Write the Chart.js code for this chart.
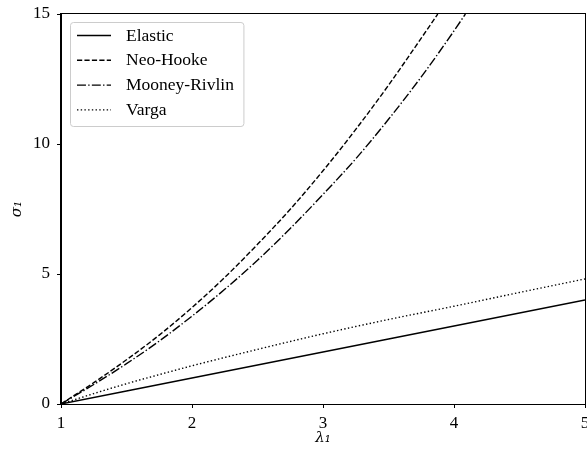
<!DOCTYPE html>
<html>
<head>
<meta charset="utf-8">
<script src="https://cdn.jsdelivr.net/npm/chart.js@4.4.1/dist/chart.umd.min.js"></script>
<style>
    html, body { margin: 0; padding: 0; background: #fff; }
    #wrap { width: 587px; height: 450px; }
</style>
</head>
<body>
<div id="wrap"><canvas id="chart-stress"></canvas></div>
<script>
// values
const elasticLambda = [1, 2, 3, 4, 5];
const elasticSigma = [0, 1, 2, 3, 4];

const neoHookeLambda = [1, 1.25, 1.5, 1.75, 2, 2.25, 2.5, 2.75, 3, 3.25, 3.5, 3.75, 3.876];
const neoHookeSigma = [0, 0.82, 1.7, 2.65, 3.71, 4.87, 6.14, 7.49, 8.97, 10.56, 12.26, 14.07, 15];

const mooneyLambda = [1, 1.25, 1.5, 1.75, 2, 2.25, 2.5, 2.75, 3, 3.25, 3.5, 3.75, 4, 4.087];
const mooneySigma = [0, 0.75, 1.55, 2.42, 3.38, 4.41, 5.53, 6.75, 8.06, 9.43, 10.95, 12.58, 14.35, 15];

const vargaLambda = [1, 1.25, 1.5, 1.75, 2, 2.5, 3, 3.5, 4, 4.5, 5];
const vargaSigma = [0, 0.4, 0.78, 1.13, 1.47, 2.1, 2.7, 3.25, 3.76, 4.29, 4.81];

const xTicks = [1, 2, 3, 4, 5];
const yTicks = [0, 5, 10, 15];

const serif = "'Liberation Serif', 'DejaVu Serif', serif";
const mathSerif = "'DejaVu Serif', serif";
const lw = 1.4;

const toPoints = (xs, ys) => xs.map((x, i) => ({ x: x, y: ys[i] }));

const lineSet = (label, xs, ys, dash) => ({
    label: label,
    data: toPoints(xs, ys),
    borderColor: "#000",
    borderWidth: lw,
    borderDash: dash,
    pointRadius: 0,
    fill: false,
    cubicInterpolationMode: "monotone",
});

// top/right spines
const framePlugin = {
    id: "frame",
    afterDatasetsDraw(chart) {
        const { ctx, chartArea: a } = chart;
        ctx.save();
        ctx.strokeStyle = "#000";
        ctx.lineWidth = 1;
        ctx.strokeRect(Math.round(a.left) - 0.5, Math.round(a.top) - 0.5,
            Math.round(a.right - a.left) + 1, Math.round(a.bottom - a.top) + 1);
        ctx.restore();
    },
};

// legend box inside the plot, upper left
const boxLegend = {
    id: "boxLegend",
    afterDraw(chart) {
        const { ctx, chartArea: a } = chart;
        const sets = chart.data.datasets;
        ctx.save();
        ctx.font = "17.5px " + serif;
        const textW = Math.max(...sets.map((d) => ctx.measureText(d.label).width));
        const bx = a.left + 9.5, by = a.top + 8.5;
        const textX = a.left + 65;
        const bw = textX + textW + 10 - bx, bh = 104;
        ctx.beginPath();
        ctx.roundRect(bx, by, bw, bh, 3);
        ctx.fillStyle = "rgba(255,255,255,0.8)";
        ctx.fill();
        ctx.strokeStyle = "#cccccc";
        ctx.lineWidth = 1;
        ctx.stroke();
        sets.forEach((d, i) => {
            const y = a.top + 21.5 + i * 24.8;
            ctx.beginPath();
            ctx.setLineDash(d.borderDash || []);
            ctx.strokeStyle = "#000";
            ctx.lineWidth = lw;
            ctx.moveTo(a.left + 16, y);
            ctx.lineTo(a.left + 50, y);
            ctx.stroke();
            ctx.setLineDash([]);
            ctx.fillStyle = "#000";
            ctx.textBaseline = "middle";
            ctx.fillText(d.label, textX, y + 0.5);
        });
        ctx.restore();
    },
};

const chart = new Chart(document.getElementById("chart-stress"), {
    type: "line",
    data: {
        datasets: [
            lineSet("Elastic", elasticLambda, elasticSigma, []),
            lineSet("Neo-Hooke", neoHookeLambda, neoHookeSigma, [5.2, 2.24]),
            lineSet("Mooney-Rivlin", mooneyLambda, mooneySigma, [8.96, 2.24, 1.4, 2.24]),
            lineSet("Varga", vargaLambda, vargaSigma, [1.4, 2.31]),
        ],
    },
    options: {
        responsive: true,
        maintainAspectRatio: false,
        animation: false,
        layout: {
            padding: { top: 14, right: 2, left: 0, bottom: 0 },
        },
        plugins: {
            legend: { display: false },
            tooltip: { enabled: false },
        },
        scales: {
            x: {
                type: "linear",
                min: 1,
                max: 5,
                afterBuildTicks: (scale) => {
                    scale.ticks = xTicks.map((v) => ({ value: v }));
                },
                afterFit: (scale) => {
                    scale.height = 46;
                    scale.paddingLeft = 0;
                    scale.paddingRight = 0;
                },
                ticks: {
                    color: "#000",
                    padding: 5,
                    maxRotation: 0,
                    font: { family: serif, size: 17 },
                },
                grid: {
                    drawOnChartArea: false,
                    drawTicks: true,
                    tickLength: 4,
                    color: "#000",
                },
                border: { display: true, color: "#000", width: 1 },
                title: {
                    display: true,
                    text: "λ₁",
                    color: "#000",
                    padding: { top: 0, bottom: 3 },
                    font: { family: mathSerif, size: 15, style: "italic" },
                },
            },
            y: {
                type: "linear",
                min: 0,
                max: 15,
                afterBuildTicks: (scale) => {
                    scale.ticks = yTicks.map((v) => ({ value: v }));
                },
                afterFit: (scale) => {
                    scale.width = 61;
                    scale.paddingTop = 0;
                    scale.paddingBottom = 0;
                },
                ticks: {
                    color: "#000",
                    padding: 7,
                    font: { family: serif, size: 17 },
                },
                grid: {
                    drawOnChartArea: false,
                    drawTicks: true,
                    tickLength: 4,
                    color: "#000",
                },
                border: { display: true, color: "#000", width: 1 },
                title: {
                    display: true,
                    text: "σ₁",
                    color: "#000",
                    padding: { top: 8, bottom: 0 },
                    font: { family: mathSerif, size: 15, style: "italic" },
                },
            },
        },
    },
    plugins: [framePlugin, boxLegend],
});
</script>
</body>
</html>
